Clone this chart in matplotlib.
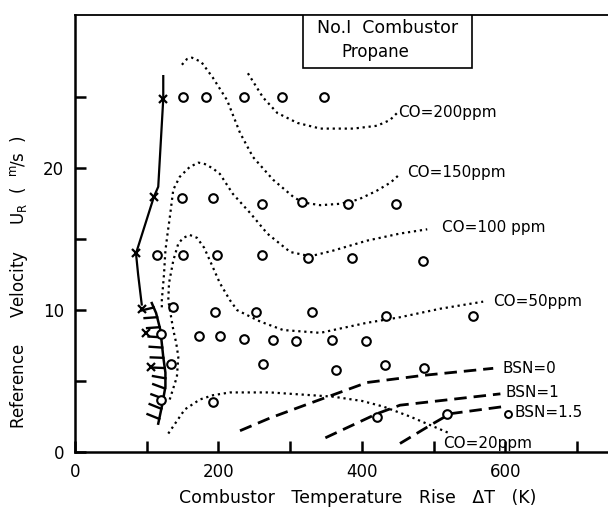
import numpy as np
import matplotlib
matplotlib.use("Agg")
import matplotlib.pyplot as plt
from matplotlib import patheffects
from matplotlib.patches import Rectangle

# ---- data ----
circ_x = [150, 183, 235, 288, 347,
          149, 192, 261, 317, 381, 448,
          114, 151, 198, 261, 325, 386, 485,
          137, 195, 252, 331, 434, 555,
          120, 173, 202, 236, 276, 308, 358, 406,
          134, 262, 364, 432, 487,
          120, 192, 421, 519]
circ_y = [25.0, 25.0, 25.0, 25.0, 25.0,
          17.9, 17.9, 17.5, 17.6, 17.5, 17.5,
          13.9, 13.9, 13.9, 13.9, 13.7, 13.7, 13.5,
          10.2, 9.9, 9.9, 9.9, 9.6, 9.6,
          8.3, 8.2, 8.2, 8.0, 7.9, 7.8, 7.9, 7.8,
          6.2, 6.2, 5.8, 6.1, 5.9,
          3.7, 3.5, 2.5, 2.7]

cross_x = [123, 110, 85, 93, 99, 106]
cross_y = [24.9, 18.0, 14.0, 10.1, 8.4, 6.0]

limit_x = [123, 123, 116, 110, 85, 88, 93]
limit_y = [26.5, 24.9, 18.7, 18.0, 14.0, 12.5, 10.4]

hatch_x = [107, 113, 119, 123, 126, 126, 121, 116]
hatch_y = [10.5, 9.8, 8.6, 6.7, 5.6, 4.6, 3.2, 2.0]

co200_x = [241, 262, 282, 310, 342, 388, 421, 439, 449]
co200_y = [26.7, 25.0, 23.9, 23.2, 22.8, 22.8, 23.0, 23.4, 23.9]

co150_x = [149, 156, 163, 176, 192, 212, 230, 248, 276, 304, 317, 342, 370, 395, 420, 440, 453]
co150_y = [27.3, 27.7, 27.8, 27.5, 26.4, 24.8, 22.5, 20.8, 19.2, 18.0, 17.6, 17.4, 17.5, 17.8, 18.4, 19.0, 19.6]

co100_x = [121, 121, 124, 126, 129, 132, 137, 146, 160, 172, 181, 192, 202, 220, 245, 268, 300, 328, 360, 407, 453, 491]
co100_y = [10.2, 10.7, 12.5, 14.2, 15.4, 16.5, 18.5, 19.4, 20.1, 20.4, 20.3, 20.0, 19.6, 18.2, 16.8, 15.4, 14.1, 13.8, 14.2, 14.9, 15.4, 15.7]

co50_x = [132, 142, 144, 141, 137, 130, 131, 137, 144, 151, 160, 170, 180, 188, 202, 216, 226, 258, 290, 342, 360, 406, 453, 509, 569]
co50_y = [3.7, 5.3, 6.7, 7.7, 8.6, 10.7, 11.9, 13.5, 14.7, 15.1, 15.3, 15.1, 14.4, 13.5, 11.9, 10.7, 10.0, 9.2, 8.6, 8.4, 8.6, 9.1, 9.5, 10.1, 10.6]

co20_x = [130, 153, 174, 192, 216, 272, 331, 360, 400, 430, 467, 495, 523]
co20_y = [1.3, 3.0, 3.7, 4.0, 4.2, 4.2, 4.0, 3.9, 3.6, 3.2, 2.5, 1.9, 1.3]

bsn0_x = [230, 272, 331, 407, 485, 583]
bsn0_y = [1.5, 2.4, 3.5, 4.9, 5.4, 5.9]

bsn1_x = [349, 421, 453, 523, 593]
bsn1_y = [1.0, 2.7, 3.3, 3.7, 4.1]

bsn15_x = [453, 499, 523, 597]
bsn15_y = [0.6, 2.0, 2.7, 3.2]

small_circ_x = [604]
small_circ_y = [2.7]

labels = ["CO=200ppm", "CO=150ppm", "CO=100 ppm", "CO=50ppm", "BSN=0", "BSN=1", "BSN=1.5", "CO=20ppm"]
label_x = [450, 463, 512, 583, 596, 600, 613, 513]
label_y = [23.9, 19.7, 15.8, 10.6, 5.9, 4.2, 2.8, 0.6]

xticks_major = [0, 200, 400, 600]
xticks_minor = [100, 300, 500, 700]
yticks_major = [0, 10, 20]
yticks_minor = [5, 15, 25]

# ---- figure ----
fig = plt.figure(figsize=(6.08, 5.14), dpi=100)
ax = fig.add_axes([0.1234, 0.1206, 0.8766, 0.850])
ax.set_xlim(0, 743)
ax.set_ylim(0, 30.8)

dot = (0, (1.0, 1.7))
dash = (0, (4.5, 2.5))
for xs, ys in [(co200_x, co200_y), (co150_x, co150_y), (co100_x, co100_y),
               (co50_x, co50_y), (co20_x, co20_y)]:
    ax.plot(xs, ys, color='black', lw=1.6, linestyle=dot)
for xs, ys in [(bsn0_x, bsn0_y), (bsn1_x, bsn1_y), (bsn15_x, bsn15_y)]:
    ax.plot(xs, ys, color='black', lw=2.0, linestyle=dash)

ax.plot(limit_x, limit_y, color='black', lw=1.6)
ax.plot(hatch_x, hatch_y, color='black', lw=1.8,
        path_effects=[patheffects.withTickedStroke(angle=-100, spacing=7, length=1.3, linewidth=1.7)])

ax.plot(circ_x, circ_y, linestyle='none', marker='o', ms=6.2, mfc='white',
        mec='black', mew=1.5)
ax.plot(small_circ_x, small_circ_y, linestyle='none', marker='o', ms=5, mfc='white',
        mec='black', mew=1.4)
ax.plot(cross_x, cross_y, linestyle='none', marker='x', ms=5.5, color='black', mew=1.6)

for t, x, y in zip(labels, label_x, label_y):
    ax.text(x, y, t, fontsize=11, ha='left', va='center', color='black')

# title box
ax.add_patch(Rectangle((0.428, 0.879), 0.317, 0.121, transform=ax.transAxes,
                       fill=True, fc='white', ec='black', lw=1.2, zorder=3))
ax.text(0.587, 0.970, "No.I  Combustor", transform=ax.transAxes, fontsize=12.5,
        ha='center', va='center', zorder=4)
ax.text(0.563, 0.915, "Propane", transform=ax.transAxes, fontsize=12,
        ha='center', va='center', zorder=4)

ax.set_xticks(xticks_major)
ax.set_xticks(xticks_minor, minor=True)
ax.set_yticks(yticks_major)
ax.set_yticks(yticks_minor, minor=True)
ax.tick_params(which='both', direction='in', width=1.8, color='black',
               labelsize=12, top=False, right=False)
ax.tick_params(which='major', length=8, pad=8)
ax.tick_params(which='minor', length=8)

for s in ['left', 'bottom']:
    ax.spines[s].set_linewidth(1.8)
ax.spines['top'].set_linewidth(1.3)
ax.spines['right'].set_visible(False)

ax.set_xlabel("Combustor   Temperature   Rise   \u0394T   (K)", fontsize=12.5, labelpad=8)
ax.set_ylabel("Reference     Velocity     U$_{\\rm R}$  (  $^{\\rm m}\\!$/s  )", fontsize=12)
ax.yaxis.set_label_coords(-0.085, 0.39)
ax.xaxis.set_label_coords(0.53, -0.085)

fig.savefig("out.png", dpi=100)
